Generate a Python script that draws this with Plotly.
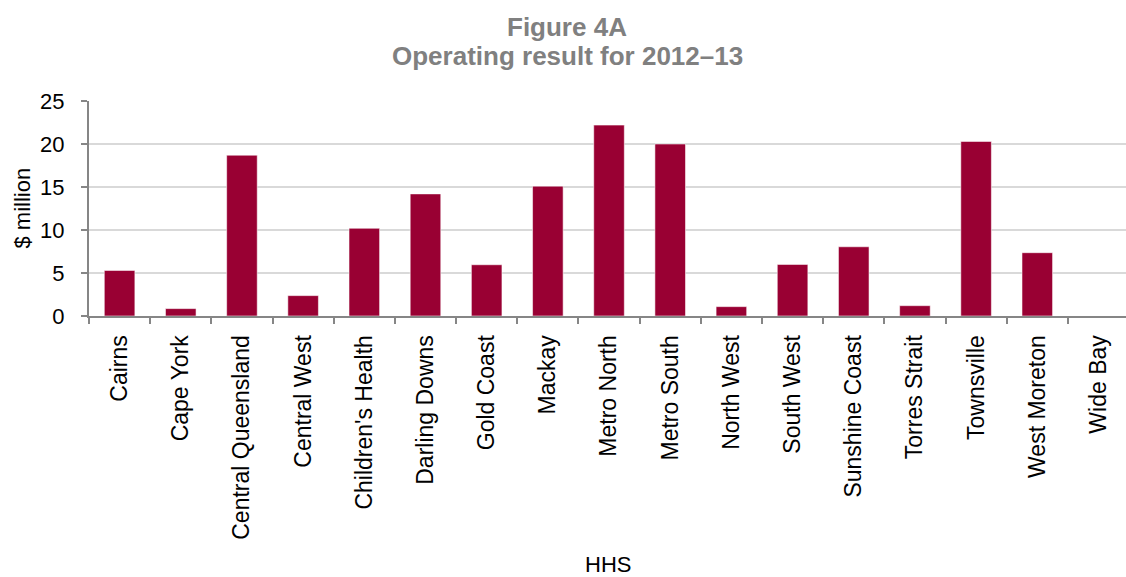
import plotly.graph_objects as go

# Hospital and Health Services (HHS) and their 2012-13 operating result ($ million)
hhs = [
    "Cairns", "Cape York", "Central Queensland", "Central West",
    "Children's Health", "Darling Downs", "Gold Coast", "Mackay",
    "Metro North", "Metro South", "North West", "South West",
    "Sunshine Coast", "Torres Strait", "Townsville", "West Moreton", "Wide Bay",
]
operating_result = [
    5.3, 0.86, 18.7, 2.37,
    10.2, 14.2, 5.96, 15.1,
    22.2, 20.0, 1.09, 6.0,
    8.05, 1.2, 20.3, 7.36, 0.0,
]
y_ticks = [0, 5, 10, 15, 20, 25]
title_lines = ["Figure 4A", "Operating result for 2012–13"]

FONT = "Liberation Sans, Arial, sans-serif"
BAR = "#990033"
AXIS = "#868686"
GRID = "#d9d9d9"
TITLE_GREY = "#808080"

fig = go.Figure(
    go.Bar(
        x=hhs,
        y=operating_result,
        marker=dict(color=BAR, line=dict(color="rgba(255,255,255,0.55)", width=1)),
        width=0.5,
    )
)

# Two-line bold grey heading, centred on the page
title_annotations = [
    dict(
        text=f"<b>{line}</b>", xref="paper", yref="paper", x=0.461, y=1,
        xanchor="center", yanchor="middle", yshift=shift, showarrow=False,
        font=dict(family=FONT, size=26, color=TITLE_GREY),
    )
    for line, shift in zip(title_lines, [74, 45])
]

fig.update_layout(
    width=1126,
    height=577,
    paper_bgcolor="white",
    plot_bgcolor="white",
    margin=dict(l=89, r=0, t=101, b=261),
    showlegend=False,
    font=dict(family=FONT, color="black", size=22),
    annotations=title_annotations + [
        dict(
            text="HHS", xref="paper", yref="paper", x=0.5, y=0,
            xanchor="center", yanchor="middle", yshift=-248, showarrow=False,
            font=dict(family=FONT, size=22, color="black"),
        ),
        dict(
            text="$ million", xref="paper", yref="paper", x=0, y=0.5,
            xanchor="center", yanchor="middle", xshift=-67, textangle=-90,
            showarrow=False, font=dict(family=FONT, size=22, color="black"),
        ),
    ],
)

fig.update_xaxes(
    type="category",
    range=[-0.5, 16.45],
    tickangle=-90,
    tickson="boundaries",
    ticks="outside",
    ticklen=6,
    tickwidth=2,
    tickcolor=AXIS,
    showline=True,
    linecolor=AXIS,
    linewidth=2,
    showgrid=False,
    tickfont=dict(family=FONT, size=23, color="black"),
    ticklabelstandoff=8,
)

fig.update_yaxes(
    range=[0, 25],
    tickvals=y_ticks,
    ticks="outside",
    ticklen=6,
    tickwidth=2,
    tickcolor=AXIS,
    showline=True,
    linecolor=AXIS,
    linewidth=2,
    showgrid=True,
    gridcolor=GRID,
    gridwidth=2,
    zeroline=False,
    tickfont=dict(family=FONT, size=22, color="black"),
    ticklabelstandoff=12,
)

fig.write_html("out.html")
